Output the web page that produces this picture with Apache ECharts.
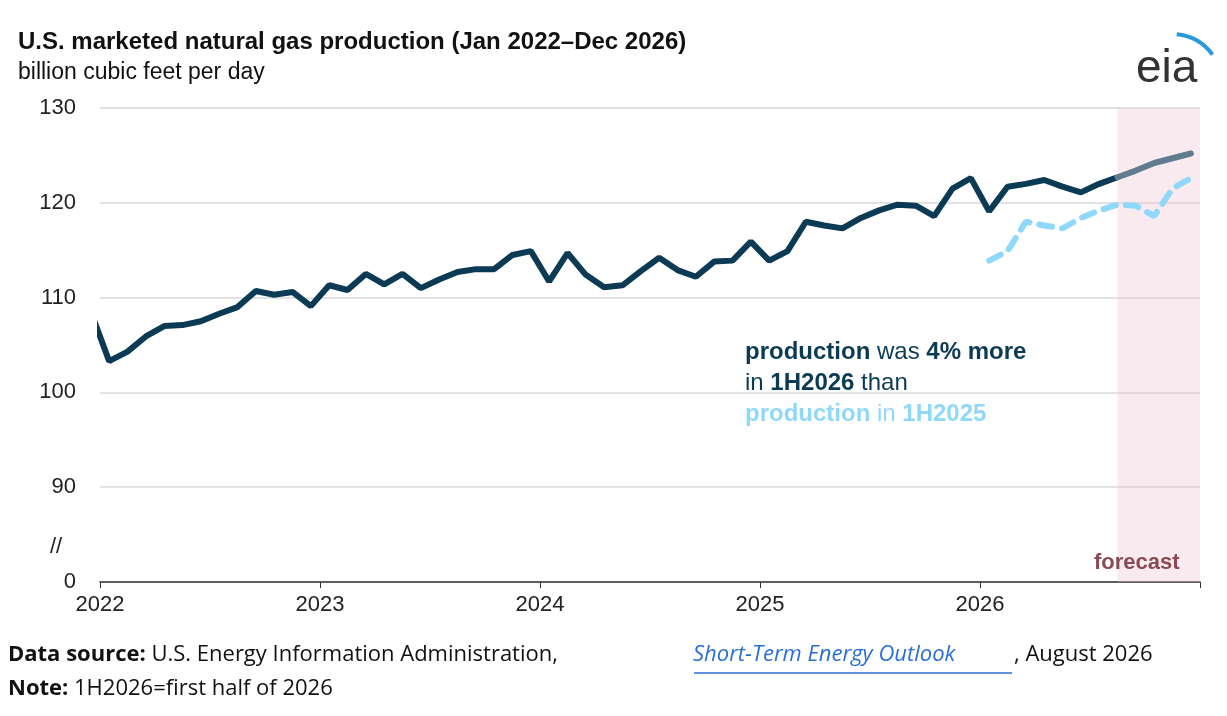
<!DOCTYPE html>
<html lang="en">
<head>
<meta charset="UTF-8">
<title>U.S. marketed natural gas production</title>
<script src="https://cdn.jsdelivr.net/npm/echarts@6/dist/echarts.min.js"></script>
<style>html,body{margin:0;padding:0;background:#fff;}</style>
</head>
<body>
<div id="chart" style="width:1227px;height:716px;"></div>
<script type="text/javascript">
    // monthly values, billion cubic feet per day
    var dec2021 = 108.5;
    var prod2022 = [103.3, 104.3, 105.9, 107.0, 107.1, 107.5, 108.3, 109.0, 110.7, 110.3, 110.6, 109.1];
    var prod2023 = [111.3, 110.8, 112.5, 111.4, 112.5, 111.0, 111.9, 112.7, 113.0, 113.0, 114.5, 114.9];
    var prod2024 = [111.7, 114.7, 112.4, 111.1, 111.3, 112.8, 114.2, 112.9, 112.2, 113.8, 113.9, 115.9];
    var prod2025 = [113.9, 114.9, 118.0, 117.6, 117.3, 118.4, 119.2, 119.8, 119.7, 118.6, 121.5, 122.6];
    var hist2026 = [119.1, 121.7, 122.0, 122.4, 121.7, 121.1, 122.0, 122.7];
    var fcst2026 = [123.4, 124.2, 124.7, 125.2];
    var yearLabels = ['2022', '2023', '2024', '2025', '2026', '2027'];

    // x = months since Jan 2022, points placed mid-month
    var hist = [[-0.5, dec2021]];
    prod2022.concat(prod2023, prod2024, prod2025, hist2026).forEach(function (v, i) {
        hist.push([i + 0.5, v]);
    });
    var fcstStart = hist.length - 2; // index of Aug 2026
    var fcst = [[fcstStart + 0.5, hist2026[hist2026.length - 1]]];
    fcst2026.forEach(function (v, i) { fcst.push([fcstStart + 1.5 + i, v]); });
    // 2025 production shifted onto 2026
    var prev = prod2025.map(function (v, i) { return [48.5 + i, v]; });

    var chart = echarts.init(document.getElementById('chart'));
    var font = 'Liberation Sans, Arial, sans-serif';
    var foot = 'Open Sans, Liberation Sans, sans-serif';

    var option = {
        animation: false,
        grid: { left: 100, right: 27, top: 108, bottom: 134 },
        xAxis: {
            type: 'value', min: 0, max: 60, interval: 12,
            axisLine: { show: true, lineStyle: { color: '#333', width: 1.5 } },
            axisTick: { show: true, length: 6, lineStyle: { color: '#333' } },
            splitLine: { show: false },
            axisLabel: {
                fontSize: 22, color: '#222', fontFamily: font, margin: 12,
                formatter: function (v) { return v < 60 ? yearLabels[v / 12] : ''; }
            }
        },
        yAxis: {
            type: 'value', min: 80, max: 130, interval: 10,
            axisLine: { show: false }, axisTick: { show: false },
            splitLine: { lineStyle: { color: '#d9d9d9', width: 1.5 } },
            axisLabel: {
                fontSize: 22, color: '#222', fontFamily: font, margin: 24,
                formatter: function (v) { return v === 80 ? '0' : String(v); }
            }
        },
        series: [
            {
                type: 'line', data: prev, symbol: 'none', z: 2,
                lineStyle: { color: '#8fd8fb', width: 6, type: [13, 10], cap: 'round' }
            },
            {
                type: 'line', data: hist, symbol: 'none', clip: true, z: 3,
                lineStyle: { color: '#0b3a55', width: 6 }
            },
            {
                type: 'line', data: fcst, symbol: 'none', z: 3,
                lineStyle: { color: '#617c8e', width: 6, cap: 'round' },
                markArea: {
                    silent: true,
                    itemStyle: { color: 'rgba(235,195,205,0.35)' },
                    data: [[{ xAxis: fcstStart + 0.5 }, { xAxis: 60 }]]
                }
            }
        ],
        graphic: [
            { type: 'text', left: 18, top: 30, style: { text: 'U.S. marketed natural gas production (Jan 2022\u2013Dec 2026)', font: 'bold 24px ' + font, fill: '#111' } },
            { type: 'text', left: 18, top: 61, style: { text: 'billion cubic feet per day', font: '23px ' + font, fill: '#111' } },
            { type: 'text', left: 1136, top: 46, style: { text: 'eia', font: '46px ' + font, fill: '#333' } },
            { type: 'arc', shape: { cx: 1172, cy: 84, r: 50, startAngle: -Math.PI * 0.47, endAngle: -Math.PI * 0.2 }, style: { stroke: '#2a9ad6', lineWidth: 4, fill: null } },
            { type: 'text', left: 50, top: 536, style: { text: '//', font: '22px ' + font, fill: '#222' } },
            { type: 'text', left: 1094, top: 552, z: 10, style: { text: 'forecast', font: 'bold 22px ' + font, fill: '#8a4a55' } },
            {
                type: 'text', left: 745, top: 340, z: 10,
                style: {
                    text: '{b|production }{d|was }{b|4% more}\n{d|in }{b|1H2026 }{d|than}\n{lb|production }{l|in }{lb|1H2025}',
                    rich: {
                        b: { font: 'bold 24px ' + font, fill: '#0b3a55', lineHeight: 31 },
                        d: { font: '24px ' + font, fill: '#0b3a55', lineHeight: 31 },
                        lb: { font: 'bold 24px ' + font, fill: '#8fd8fb', lineHeight: 31 },
                        l: { font: '24px ' + font, fill: '#8fd8fb', lineHeight: 31 }
                    }
                }
            },
            {
                type: 'text', left: 8, top: 644,
                style: {
                    text: '{b|Data source: }{n|U.S. Energy Information Administration, }',
                    rich: {
                        b: { font: 'bold 22px ' + foot, fill: '#111' },
                        n: { font: '22px ' + foot, fill: '#111' }
                    }
                }
            },
            { type: 'text', left: 693, top: 644, style: { text: 'Short-Term Energy Outlook', font: 'italic 22px ' + foot, fill: '#2a6fd6' } },
            { type: 'text', left: 1014, top: 644, style: { text: ', August 2026', font: '22px ' + foot, fill: '#111' } },
            { type: 'line', shape: { x1: 694, y1: 673, x2: 1012, y2: 673 }, style: { stroke: '#2a6fd6', lineWidth: 1.5 } },
            {
                type: 'text', left: 8, top: 678,
                style: {
                    text: '{b|Note: }{n|1H2026=first half of 2026}',
                    rich: {
                        b: { font: 'bold 22px ' + foot, fill: '#111' },
                        n: { font: '22px ' + foot, fill: '#111' }
                    }
                }
            }
        ]
    };

    chart.setOption(option);
</script>
</body>
</html>
